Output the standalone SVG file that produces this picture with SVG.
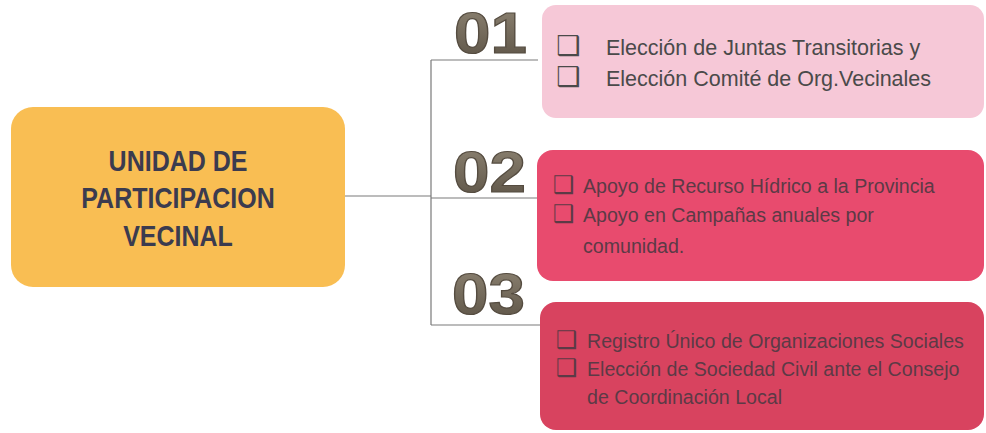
<svg xmlns="http://www.w3.org/2000/svg" width="986" height="433" viewBox="0 0 986 433">
<defs>
<linearGradient id="num" x1="0" y1="0" x2="0" y2="1">
<stop offset="0" stop-color="#8f8574"/>
<stop offset="1" stop-color="#5a5144"/>
</linearGradient>
</defs>
<style>
.num{font-family:"Liberation Sans",Arial,sans-serif;font-weight:bold;font-size:57px;fill:url(#num);stroke:#554c40;stroke-width:1.2}
.main{font-family:"Liberation Sans",Arial,sans-serif;font-weight:bold;font-size:25px;fill:#3b3b4f;text-anchor:middle}
.t1{font-family:"Liberation Sans",Arial,sans-serif;font-size:21.5px;fill:#4a4a4a}
.t2{font-family:"Liberation Sans",Arial,sans-serif;font-size:19.6px;fill:#5c3a46}
.cb{font-family:"DejaVu Sans",sans-serif}
.conn{fill:none;stroke:#7a7a7a;stroke-width:1.2}
</style>
<rect width="986" height="433" fill="#ffffff"/>
<g id="connectors">
<path class="conn" d="M345,196 H431 M431,60 V325 M431,60 H538 M431,198 H537 M431,325 H541"/>
</g>
<g id="main">
<rect x="11" y="107" width="334" height="180" rx="22" fill="#f9be53"/>
<text class="main" transform="translate(178,171) scale(1,1.18)">UNIDAD DE</text>
<text class="main" transform="translate(178,208) scale(1,1.18)">PARTICIPACION</text>
<text class="main" transform="translate(178,246) scale(1,1.18)">VECINAL</text>
</g>
<g id="num01"><text class="num" transform="translate(454,53) scale(1.15,1)">01</text></g>
<g id="num02"><text class="num" transform="translate(453,192) scale(1.15,1)">02</text></g>
<g id="num03"><text class="num" transform="translate(452,314) scale(1.15,1)">03</text></g>
<g id="box1">
<rect x="542" y="5" width="442" height="113" rx="14" fill="#f6c8d7"/>
<text class="t1" y="55"><tspan class="cb" x="556" font-size="27">❑</tspan><tspan x="606">Elección de Juntas Transitorias y</tspan></text>
<text class="t1" y="86"><tspan class="cb" x="556" font-size="27">❑</tspan><tspan x="606">Elección Comité de Org.Vecinales</tspan></text>
</g>
<g id="box2">
<rect x="537" y="150" width="447" height="131" rx="16" fill="#e84b6e"/>
<text class="t2" y="193"><tspan class="cb" x="553" font-size="24">❑</tspan><tspan x="583">Apoyo de Recurso Hídrico a la Provincia</tspan></text>
<text class="t2" y="222"><tspan class="cb" x="553" font-size="24">❑</tspan><tspan x="583">Apoyo en Campañas anuales por</tspan></text>
<text class="t2" x="583" y="253">comunidad.</text>
</g>
<g id="box3">
<rect x="540" y="302" width="444" height="128" rx="16" fill="#d8435f"/>
<text class="t2" y="348"><tspan class="cb" x="556" font-size="24">❑</tspan><tspan x="587">Registro Único de Organizaciones Sociales</tspan></text>
<text class="t2" y="376"><tspan class="cb" x="556" font-size="24">❑</tspan><tspan x="587">Elección de Sociedad Civil ante el Consejo</tspan></text>
<text class="t2" x="587" y="404">de Coordinación Local</text>
</g>
</svg>
